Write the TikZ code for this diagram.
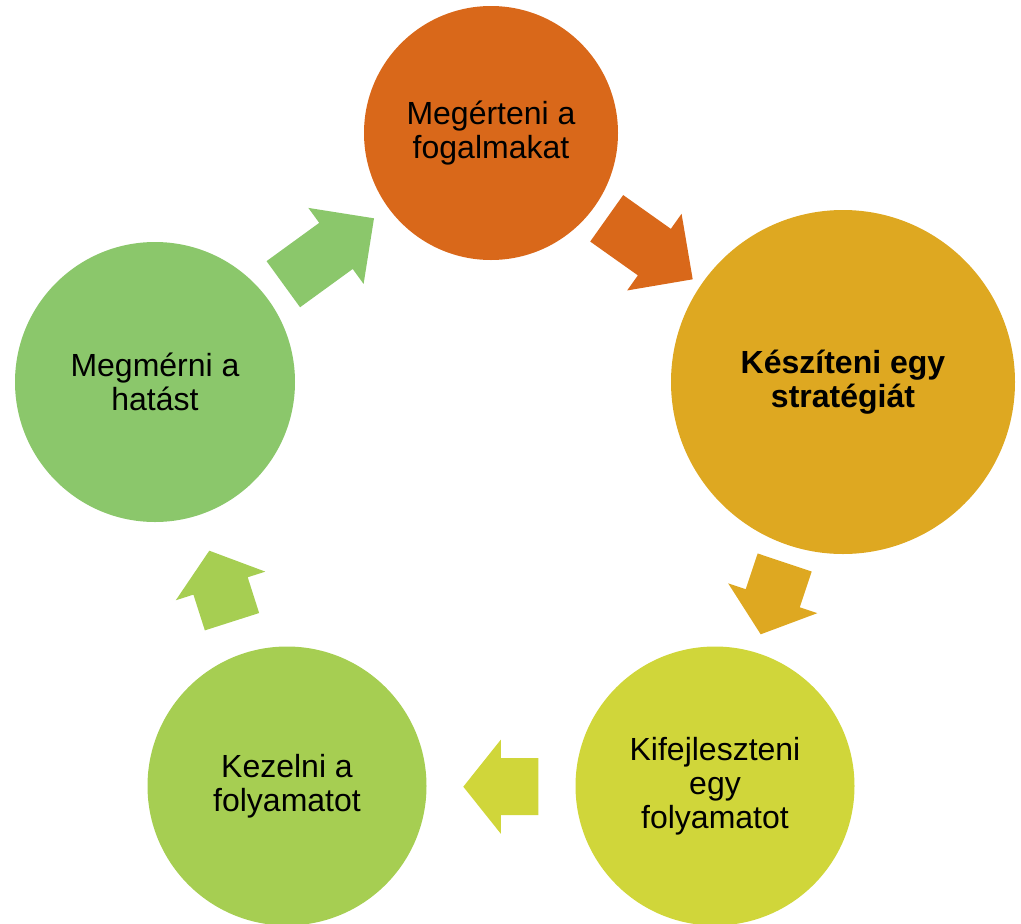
\documentclass[tikz,border=0pt]{standalone}
\usepackage{fontspec}
\setmainfont{Liberation Sans}
\usetikzlibrary{calc}
\definecolor{cOrange}{HTML}{D9681A}
\definecolor{cGold}{HTML}{DEA821}
\definecolor{cLime}{HTML}{D0D63A}
\definecolor{cGreenA}{HTML}{A6CE52}
\definecolor{cGreenB}{HTML}{8BC76B}
\newcommand\blockarrow[4]{%
  \coordinate (ba-n) at ($(#2)!#3pt!(#1)$);
  \fill[#4] ($(#1)!28.5pt!90:(#2)$) -- ($(ba-n)!28.5pt!90:(#2)$)
    -- ($(ba-n)!47pt!90:(#2)$) -- (#2) -- ($(ba-n)!47pt!-90:(#2)$)
    -- ($(ba-n)!28.5pt!-90:(#2)$) -- ($(#1)!28.5pt!-90:(#2)$) -- cycle;
}
\tikzset{
  stepcircle/.style={circle, inner sep=0pt, align=center, text=black,
    font=\fontsize{32}{34}\selectfont},
}
\begin{document}
\begin{tikzpicture}[x=1pt,y=-1pt]
\useasboundingbox (0,0) rectangle (1021,924);
\clip (0,0) rectangle (1021,924);
\node[stepcircle, fill=cOrange, minimum size=254pt] (top) at (491,133)
  {Megérteni a\\fogalmakat};
\node[stepcircle, fill=cGold, minimum size=344pt] (right) at (843,382)
  {\bfseries Készíteni egy\\\bfseries stratégiát};
\node[stepcircle, fill=cLime, minimum size=279pt] (bright) at (715,786)
  {Kifejleszteni\\egy\\folyamatot};
\node[stepcircle, fill=cGreenA, minimum size=279pt] (bleft) at (287,786)
  {Kezelni a\\folyamatot};
\node[stepcircle, fill=cGreenB, minimum size=280pt] (left) at (155,382)
  {Megmérni a\\hatást};
% arrows
\coordinate (a1s) at (283.3,284.2); \coordinate (a1e) at (374,218.3);
\coordinate (a2s) at (606.7,218.3); \coordinate (a2e) at (692.7,279.3);
\coordinate (a3s) at (784.7,562.5); \coordinate (a3e) at (760.7,634.3);
\coordinate (a4s) at (538.3,786.7); \coordinate (a4e) at (463.3,786.7);
\coordinate (a5s) at (232,621.7);   \coordinate (a5e) at (209.3,550.7);
\blockarrow{a1s}{a1e}{47}{cGreenB}
\blockarrow{a2s}{a2e}{47}{cOrange}
\blockarrow{a3s}{a3e}{38}{cGold}
\blockarrow{a4s}{a4e}{37.5}{cLime}
\blockarrow{a5s}{a5e}{37}{cGreenA}
\end{tikzpicture}
\end{document}
